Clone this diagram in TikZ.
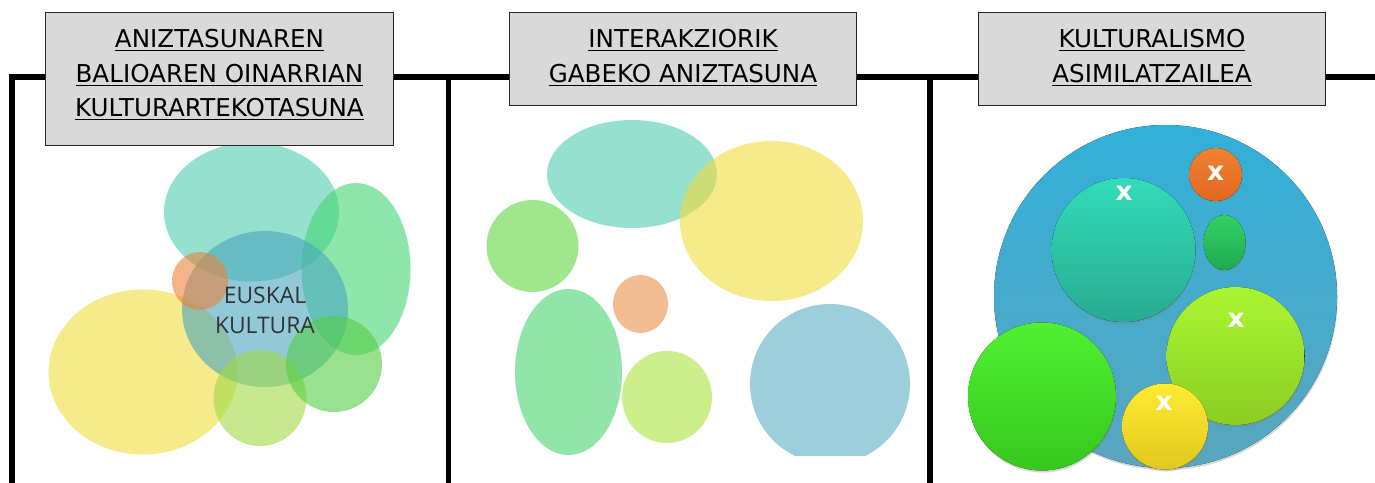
\documentclass[tikz,border=0pt]{standalone}
\usepackage{fontspec}
\setmainfont{DejaVu Sans}
\newfontfamily\euskalfont{Open Sans}
\usetikzlibrary{shadows}
% kolore gardenak (ezkerra eta erdia)
\definecolor{boxgray}{RGB}{217,217,217}
\definecolor{teal1}{RGB}{80,204,175}
\definecolor{grnv1}{RGB}{68,214,114}
\definecolor{blu1}{RGB}{72,165,190}
\definecolor{org1}{RGB}{236,130,58}
\definecolor{yel1}{RGB}{240,220,63}
\definecolor{lim1}{RGB}{160,217,69}
\definecolor{grn1}{RGB}{84,205,67}
\definecolor{grnc1}{RGB}{97,214,64}
\definecolor{orgm1}{RGB}{236,145,75}
\definecolor{grnm1}{RGB}{73,212,110}
\definecolor{limm1}{RGB}{170,229,64}
\definecolor{blum1}{RGB}{90,174,197}
% kolore opakuak (eskuina)
\definecolor{bigA}{RGB}{50,176,218}
\definecolor{bigB}{RGB}{90,166,190}
\definecolor{tlA}{RGB}{50,220,185}
\definecolor{tlB}{RGB}{40,170,145}
\definecolor{orA}{RGB}{240,130,50}
\definecolor{orB}{RGB}{224,104,32}
\definecolor{gsA}{RGB}{50,210,100}
\definecolor{gsB}{RGB}{30,170,80}
\definecolor{lmA}{RGB}{170,245,50}
\definecolor{lmB}{RGB}{140,205,35}
\definecolor{gbA}{RGB}{80,240,50}
\definecolor{gbB}{RGB}{55,200,30}
\definecolor{ywA}{RGB}{255,235,50}
\definecolor{ywB}{RGB}{225,200,30}
\newcommand{\ul}[1]{\underline{#1}}

\begin{document}
\begin{tikzpicture}[x=0.02cm, y=-0.02cm,
    frame/.style={line width=3.4pt, line join=miter},
    titlebox/.style={draw=black!85, line width=0.8pt, fill=boxgray, anchor=north,
      minimum width=6.95cm, inner xsep=0pt, inner ysep=9.6pt, align=center,
      font=\fontsize{14pt}{19.6pt}\selectfont},
    blob/.style={fill=#1, fill opacity=0.6},
    bubble/.style 2 args={top color=#1, bottom color=#2,
      drop shadow={opacity=0.3, shadow xshift=0.4pt, shadow yshift=-1.2pt}},
    xmark/.style={text=white, font=\bfseries\fontsize{15pt}{15pt}\selectfont, inner sep=0pt}]
  \fill[white] (0,0) rectangle (1375,483);
  \useasboundingbox (0,0) rectangle (1375,483);

  %Markoa
  \coordinate (a0) at (12,483);
  \coordinate (a1) at (12,77);
  \coordinate (e) at (1375,77);
  \coordinate (b0) at (448.5,483);
  \coordinate (b1) at (448.5,77);
  \coordinate (c0) at (929.5,483);
  \coordinate (c1) at (929.5,77);
  \draw[frame] (a0) -- (a1) -- (e);
  \draw[frame] (b0) -- (b1);
  \draw[frame] (c0) -- (c1);

  %Ezkerra: kulturartekotasuna
  \begin{scope}
    \clip (0,0) rectangle (1375,455);
    \fill[blob=yel1] (143,372) ellipse (94.5 and 82.5);
    \fill[blob=teal1] (251.5,212) ellipse (87.5 and 69.5);
    \fill[blob=grnv1] (356,269) ellipse (54.5 and 86);
    \fill[blob=blu1] (265,309) ellipse (83 and 78);
    \fill[blob=org1] (200,281) ellipse (28 and 29);
    \fill[blob=lim1] (260,398) ellipse (46.5 and 48);
    \fill[blob=grn1] (334,364) ellipse (48 and 48);
  \end{scope}
  \node[text=black!80, align=center, inner sep=0pt,
    font=\euskalfont\fontsize{13pt}{17pt}\selectfont] (euskal) at (265,310) {EUSKAL\\KULTURA};

  %Erdia: interakziorik gabe
  \begin{scope}
    \clip (0,0) rectangle (1375,455);
    \fill[blob=teal1] (632,174) ellipse (85 and 54);
    \fill[blob=yel1] (771.5,221) ellipse (91.5 and 80);
    \fill[blob=grnc1] (532.5,246) ellipse (46 and 46);
    \fill[blob=orgm1] (640.5,304) ellipse (27.5 and 29);
    \fill[blob=grnm1] (568.5,372) ellipse (53.5 and 83);
    \fill[blob=limm1] (667,397) ellipse (45 and 46);
    \fill[blob=blum1] (830,384) ellipse (80 and 80);
  \end{scope}

  %Eskuina: asimilazioa
  \fill[bubble={bigA}{bigB}] (1165.5,296.5) circle (171.5);
  \fill[bubble={tlA}{tlB}] (1123.5,250) circle (72);
  \fill[bubble={orA}{orB}] (1215.5,174.5) circle (26.5);
  \fill[bubble={gsA}{gsB}] (1224.5,242.5) ellipse (21 and 27.5);
  \fill[bubble={lmA}{lmB}] (1235.5,356) circle (69);
  \fill[bubble={gbA}{gbB}] (1042,396.5) circle (74);
  \fill[bubble={ywA}{ywB}] (1165,426.5) circle (43);
  \node[xmark] (x1) at (1124,193) {x};
  \node[xmark] (x2) at (1215.5,173) {x};
  \node[xmark] (x3) at (1236,320) {x};
  \node[xmark] (x4) at (1164,403) {x};

  %Izenburuak
  \node[titlebox, text depth=6.8pt] (t1) at (219.5,12)
    {\ul{ANIZTASUNAREN}\\\ul{BALIOAREN OINARRIAN}\\\ul{KULTURARTEKOTASUNA}};
  \node[titlebox, text depth=3.7pt] (t2) at (683,12)
    {\ul{INTERAKZIORIK}\\\ul{GABEKO ANIZTASUNA}};
  \node[titlebox, text depth=3.7pt] (t3) at (1152,12)
    {\ul{KULTURALISMO}\\\ul{ASIMILATZAILEA}};
\end{tikzpicture}
\end{document}
